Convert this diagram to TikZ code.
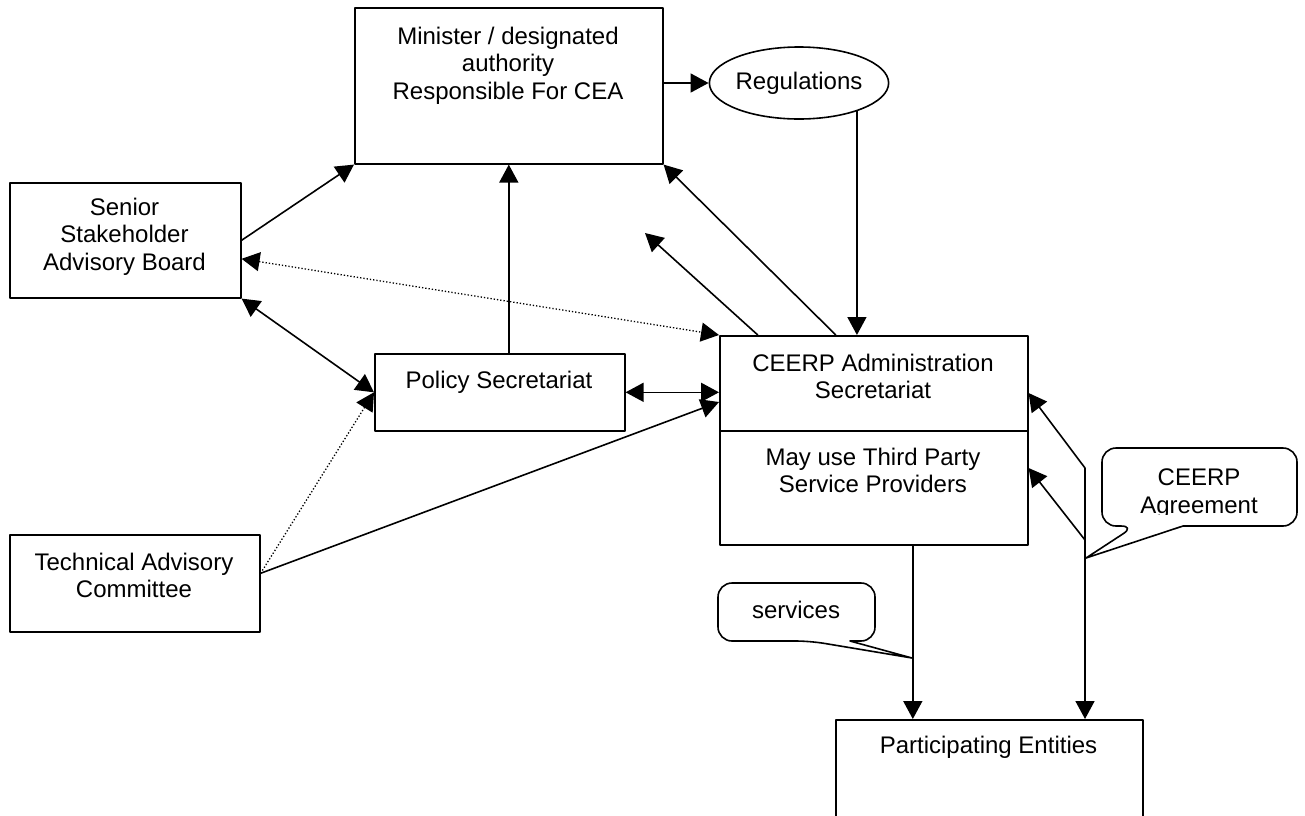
\documentclass[tikz,border=0pt]{standalone}
\usepackage{fontspec}
\setmainfont{Liberation Sans}
\usetikzlibrary{arrows.meta,shapes.geometric}
\tikzset{
  box/.style={draw,line width=1.6pt,inner sep=0pt,anchor=north west},
  lbl/.style={anchor=north,inner sep=0pt,align=center},
  dotline/.style={line width=1.3pt,dash pattern=on 1.3pt off 2pt},
  bubble/.style={line width=1.6pt},
}
\begin{document}
\begin{tikzpicture}[x=1pt,y=-1pt,>={Triangle[length=18pt,width=19pt]},line join=round,line width=1.6pt,font=\fontsize{24}{27.5}\selectfont]
\clip (0,0) rectangle (1305,815);
% boxes
	\node[box,minimum width=308pt,minimum height=156pt] (mini) at (354,7) {};
	\node[lbl] (minitxt) at (508,26) {Minister / designated\\authority\\Responsible For CEA};
	\node[ellipse,draw,minimum width=162pt,minimum height=72pt,inner sep=0pt] (regs) at (799,83) {Regulations};
	\node[box,minimum width=231pt,minimum height=115pt] (senior) at (9,182) {};
	\node[lbl] (seniortxt) at (124.5,197) {Senior\\Stakeholder\\Advisory Board};
	\node[box,minimum width=250pt,minimum height=77pt] (policy) at (374,353) {};
	\node[lbl] (policytxt) at (499,370) {Policy Secretariat};
	\node[box,minimum width=308pt,minimum height=209pt] (ceerp) at (719,335) {};
	\draw (ceerp.west |- 0,431) -- (ceerp.east |- 0,431);
	\node[lbl] (ceerptxt) at (873,353) {CEERP Administration\\Secretariat};
	\node[lbl] (thirdtxt) at (873,447) {May use Third Party\\Service Providers};
	\node[box,minimum width=250pt,minimum height=97pt] (tech) at (9,534) {};
	\node[lbl] (techtxt) at (134,552) {Technical Advisory\\Committee};
	\node[box,minimum width=307pt,minimum height=120pt] (part) at (835,719) {};
	\node[lbl] (parttxt) at (988.5,735) {Participating Entities};
% connectors
	\draw[->] (regs.west -| mini.east)--(regs.west);
	\draw[->] (regs.-26)--(regs.-26 |- ceerp.north);
	\draw[->] (senior.east)--(mini.south west);
	\draw[->] (policy.north -| mini.south)--(mini.south);
	\draw[->] ([xshift=-38pt]ceerp.north)--(mini.south east);
	\coordinate (loose) at (645,233);
	\draw[->] ([xshift=-116pt]ceerp.north)--(loose);
	\draw[dotline,<->] ([yshift=-18.5pt]senior.east)--(ceerp.north west);
	\draw[<->] (senior.south east)--(policy.west);
	\draw[<->] (policy.east)--(policy.east -| ceerp.west);
	\coordinate (techout) at ([yshift=10pt]tech.east);
	\draw[->] (techout)--([yshift=-67pt]ceerp.north west);
	\draw[dotline,->] (techout)--(policy.west);
	\coordinate (svcdrop) at ([xshift=39pt]ceerp.south);
	\draw[->] (svcdrop)--(svcdrop |- part.north);
	\coordinate (agrbend) at (1085,468);
	\coordinate (agrmid) at (1085,540);
	\draw[<->] ([yshift=-58pt]ceerp.north east)--(agrbend)--(agrbend |- part.north);
	\draw[->] (agrmid)--([yshift=-133pt]ceerp.north east);
% callouts
	\coordinate (svctip) at (912,658);
	\draw[bubble] (svctip)--(850,641)[rounded corners=14pt]--(875,641)--(875,583)--(718,583)--(718,641)--(810,641)[sharp corners]--cycle;
	\node[anchor=base,inner sep=0pt] (svc) at (796,618) {services};
	\coordinate (agrtip) at (1086,558);
	\draw[bubble] (agrtip)--(1183,526)[rounded corners=14pt]--(1297,526)--(1297,448)--(1102,448)--(1102,526)--(1135,526)[sharp corners]--cycle;
	\begin{scope}
	\clip (1102,448) rectangle (1297,514);
	\node[lbl] (agr) at (1199,468) {CEERP\\Agreement};
	\end{scope}
\end{tikzpicture}
\end{document}
